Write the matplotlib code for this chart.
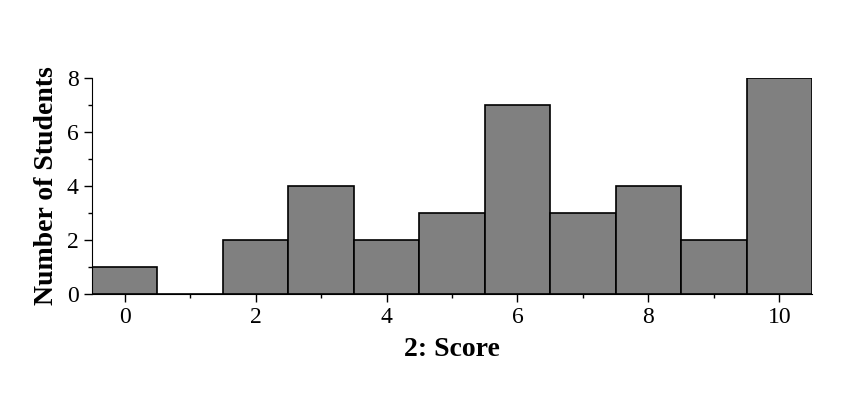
import matplotlib.pyplot as plt
import numpy as np
from matplotlib.ticker import MultipleLocator

plt.rcParams['font.family'] = ['Liberation Serif', 'DejaVu Serif']

# score values and how many students got each
scores = [0, 1, 2, 3, 4, 5, 6, 7, 8, 9, 10]
counts = [1, 0, 2, 4, 2, 3, 7, 3, 4, 2, 8]

fig = plt.figure(figsize=(8.56, 3.94), dpi=100)
ax = fig.add_axes([0.1075, 0.2538, 0.8411, 0.5482])
ax.bar(scores, counts, width=1.0, color='#808080', edgecolor='black', linewidth=1.2)

ax.set_xlim(-0.5, 10.5)
ax.set_ylim(0, 8)
ax.xaxis.set_major_locator(MultipleLocator(2))
ax.xaxis.set_minor_locator(MultipleLocator(1))
ax.yaxis.set_major_locator(MultipleLocator(2))
ax.yaxis.set_minor_locator(MultipleLocator(1))
ax.tick_params(which='major', length=6, width=1, labelsize=17, direction='out')
ax.tick_params(which='minor', length=3, width=1, direction='out')
for s in ['top', 'right']:
    ax.spines[s].set_visible(False)

ax.set_xlabel('2: Score', fontsize=20, fontweight='bold', labelpad=6)
ax.set_ylabel('Number of Students', fontsize=20, fontweight='bold', labelpad=6)

plt.savefig('out.png', dpi=100)
